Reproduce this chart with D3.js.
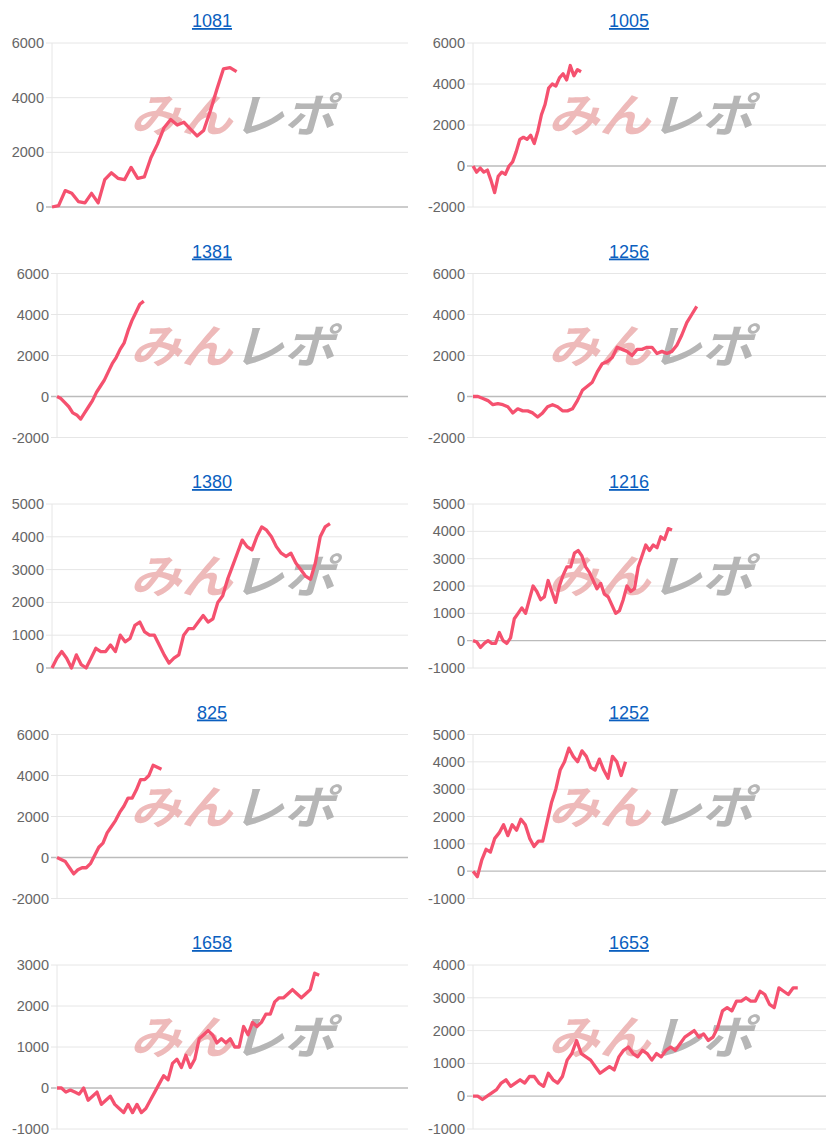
<!DOCTYPE html>
<html><head><meta charset="utf-8">
<script src="https://cdn.jsdelivr.net/npm/d3@7"></script>
<style>body{margin:0;background:#fff;font-family:"Liberation Sans",Arial,sans-serif}</style>
</head><body>
<svg id="c" width="831" height="1140"></svg>
<script>
//chart titles
var titles = ['1081','1005','1381','1256','1380','1216','825','1252','1658','1653'];
//y domains
var yMins = [0,-2000,-2000,-2000,0,-1000,-2000,-1000,-1000,-1000];
var yMaxs = [6000,6000,6000,6000,5000,5000,6000,5000,3000,4000];
var ySteps = [2000,2000,2000,2000,1000,1000,2000,1000,1000,1000];
//slots on x axis
var xSlots = [54,98,89,71,73,94,84,81,79,75];
//series
var s1081 = [0,50,600,500,200,150,500,150,1000,1250,1050,1000,1450,1050,1100,1800,2300,2900,3200,3000,3100,2850,2600,2800,3500,4300,5050,5100,4950];
var s1005 = [0,-300,-100,-300,-200,-700,-1300,-500,-300,-400,0,200,700,1300,1400,1300,1500,1100,1700,2500,3000,3800,4000,3900,4300,4500,4200,4900,4400,4700,4600];
var s1381 = [0,-100,-300,-500,-800,-900,-1100,-800,-500,-200,200,500,800,1200,1600,1900,2300,2600,3200,3700,4100,4500,4650];
var s1256 = [0,0,-100,-200,-400,-350,-400,-500,-800,-600,-700,-700,-800,-1000,-800,-500,-400,-500,-700,-700,-600,-200,300,500,700,1200,1600,1700,1900,2400,2300,2200,2000,2300,2300,2400,2400,2100,2200,2100,2200,2500,3000,3600,4000,4400];
var s1380 = [0,300,500,300,0,400,100,0,300,600,500,500,700,500,1000,800,900,1300,1400,1100,1000,1000,700,400,150,300,400,1000,1200,1200,1400,1600,1400,1500,2000,2200,2700,3100,3500,3900,3700,3600,4000,4300,4200,4000,3700,3500,3400,3500,3200,3000,2800,2700,3200,4000,4300,4400];
var s1216 = [0,-50,-250,-100,0,-100,-100,300,0,-100,100,800,1000,1200,1000,1500,2000,1800,1500,1600,2200,1800,1400,2000,2400,2700,2700,3200,3300,3100,2700,2500,2200,1900,2100,1700,1600,1300,1000,1100,1500,2000,1800,1900,2700,3100,3500,3300,3500,3400,3800,3700,4100,4050];
var s825 = [0,-100,-200,-500,-800,-600,-500,-500,-300,100,500,700,1200,1500,1800,2200,2500,2900,2900,3300,3800,3800,4000,4500,4400,4300];
var s1252 = [0,-200,400,800,700,1200,1400,1700,1300,1700,1500,1900,1700,1200,900,1100,1100,1800,2500,3000,3700,4000,4500,4200,4000,4400,4200,3800,3700,4100,3700,3400,4200,4000,3500,4000];
var s1658 = [0,0,-100,-50,-100,-150,0,-300,-200,-100,-400,-300,-200,-400,-500,-600,-400,-600,-400,-600,-500,-300,-100,100,300,200,600,700,500,800,500,700,1200,1300,1400,1300,1100,1200,1100,1200,1000,1000,1500,1300,1600,1500,1600,1800,1800,2100,2200,2200,2300,2400,2300,2200,2300,2400,2800,2750];
var s1653 = [0,0,-100,0,100,200,400,500,300,400,500,400,600,600,400,300,700,500,400,600,1100,1300,1700,1300,1200,1100,900,700,800,900,800,1200,1400,1500,1300,1200,1400,1300,1100,1300,1200,1400,1500,1400,1600,1800,1900,2000,1800,1900,1700,1800,2100,2600,2700,2600,2900,2900,3000,2900,2900,3200,3100,2800,2700,3300,3200,3100,3300,3300];
var series = [s1081,s1005,s1381,s1256,s1380,s1216,s825,s1252,s1658,s1653];

var svg = d3.select('#c');
var panelW = 415, panelH = 230.5;

titles.forEach(function(t, i) {
	var col = i % 2, row = Math.floor(i / 2);
	var ox = col * panelW, oy = row * panelH;
	var g = svg.append('g').attr('transform', 'translate(' + ox + ',' + oy + ')');

	var left = col === 1 ? 58 : (yMins[i] < 0 ? 57 : 52);
	var right = col === 1 ? 411 : 408;
	var top = 43, bottom = 207;

	var x = d3.scaleLinear().domain([0, xSlots[i]]).range([left, right]);
	var y = d3.scaleLinear().domain([yMins[i], yMaxs[i]]).range([bottom, top]);
	var ticks = d3.range(yMins[i], yMaxs[i] + 1, ySteps[i]);

	//title
	g.append('text').attr('x', col === 1 ? 214 : 212).attr('y', 27)
		.attr('text-anchor', 'middle').style('font-size', '18px')
		.style('fill', '#0b5fbf').style('text-decoration', 'underline').text(t);

	//grid
	g.selectAll('.grid').data(ticks).enter().append('line')
		.attr('x1', left - 6).attr('x2', right)
		.attr('y1', function(d) { return y(d); }).attr('y2', function(d) { return y(d); })
		.style('stroke', function(d) { return d === 0 ? '#bbb' : '#e6e6e6'; })
		.style('stroke-width', function(d) { return d === 0 ? 1.3 : 1; });
	g.append('line').attr('x1', left).attr('x2', left).attr('y1', top).attr('y2', bottom)
		.style('stroke', '#e6e6e6');

	//axis labels
	g.selectAll('.lbl').data(ticks).enter().append('text')
		.attr('x', left - 8).attr('y', function(d) { return y(d) + 5; })
		.attr('text-anchor', 'end').style('font-size', '14.5px').style('fill', '#666')
		.text(function(d) { return d; });

	//watermark
	var wm = g.append('text').attr('x', col === 1 ? 548 - ox : 130).attr('y', 132)
		.attr('textLength', 205).attr('lengthAdjust', 'spacingAndGlyphs')
		.style('font-size', '46px').style('font-weight', 'bold').style('font-style', 'italic')
		.style('font-family', '"Noto Sans CJK JP", sans-serif');
	wm.append('tspan').style('fill', '#e9a3a3').style('opacity', 0.75).text('みん');
	wm.append('tspan').style('fill', '#aaa').style('opacity', 0.85).text('レポ');

	//line
	var line = d3.line().x(function(d, j) { return x(j); }).y(function(d) { return y(d); });
	g.append('path').datum(series[i]).attr('d', line)
		.style('fill', 'none').style('stroke', '#f5516f').style('stroke-width', 3.3)
		.style('stroke-linejoin', 'round');
});
</script>
</body></html>
